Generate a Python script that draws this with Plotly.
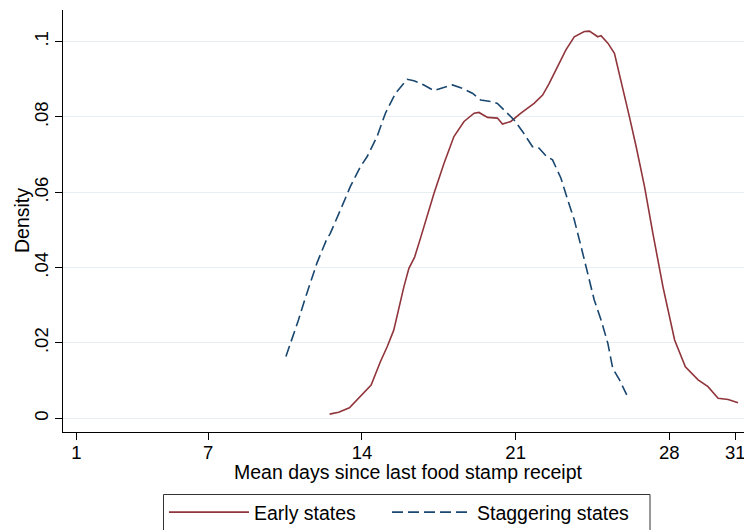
import plotly.graph_objects as go

# Early states (solid maroon)
early_days = [12.53, 12.94, 13.43, 13.93, 14.42, 14.84, 15.15, 15.45, 15.68, 15.91,
              16.14, 16.40, 16.64, 16.82, 17.28, 17.74, 18.19, 18.65, 19.11, 19.33,
              19.72, 20.17, 20.40, 20.78, 21.24, 21.84, 22.23, 22.53, 22.91, 23.29,
              23.67, 24.13, 24.36, 24.74, 24.89, 25.20, 25.50, 25.80, 26.18, 26.49,
              26.87, 27.25, 27.71, 28.24, 28.73, 29.31, 29.76, 30.22, 30.68, 31.13]
early_density = [0.0011, 0.0016, 0.0028, 0.0057, 0.0088, 0.0150, 0.0190, 0.0234, 0.0296, 0.0349,
                 0.0398, 0.0428, 0.0473, 0.0509, 0.0597, 0.0677, 0.0748, 0.0788, 0.0810, 0.0812,
                 0.0799, 0.0797, 0.0781, 0.0788, 0.0810, 0.0836, 0.0858, 0.0889, 0.0934, 0.0978,
                 0.1013, 0.1027, 0.1028, 0.1013, 0.1016, 0.0996, 0.0969, 0.0898, 0.0801, 0.0721,
                 0.0615, 0.0491, 0.0349, 0.0208, 0.0137, 0.0102, 0.0084, 0.0053, 0.0050, 0.0041]

# Staggering states (dashed navy)
stag_days = [10.54, 10.81, 11.11, 11.42, 11.65, 11.95, 12.38, 12.56, 13.02, 13.47,
             13.93, 14.24, 14.69, 15.07, 15.53, 16.06, 16.37, 16.82, 17.28, 17.66,
             18.12, 18.58, 19.03, 19.41, 19.87, 20.17, 20.63, 20.93, 21.32, 21.77,
             22.07, 22.38, 22.68, 23.06, 23.37, 23.67, 23.98, 24.28, 24.58, 24.89,
             25.20, 25.42, 25.73, 26.06]
stag_density = [0.0164, 0.0208, 0.0261, 0.0319, 0.0358, 0.0412, 0.0473, 0.0491, 0.0553, 0.0615,
                0.0668, 0.0695, 0.0748, 0.0810, 0.0863, 0.0900, 0.0896, 0.0885, 0.0870, 0.0876,
                0.0885, 0.0876, 0.0863, 0.0845, 0.0841, 0.0836, 0.0810, 0.0792, 0.0761, 0.0721,
                0.0717, 0.0697, 0.0686, 0.0638, 0.0580, 0.0527, 0.0456, 0.0385, 0.0314, 0.0261,
                0.0199, 0.0133, 0.0102, 0.0062]

x_ticks = [1, 7, 14, 21, 28, 31]
y_ticks = [0, 0.02, 0.04, 0.06, 0.08, 0.1]
y_tick_labels = ["0", ".02", ".04", ".06", ".08", ".1"]

x_title = "Mean days since last food stamp receipt"
y_title = "Density"

FONT = "Liberation Sans, Arial, Helvetica, sans-serif"

W, H = 744, 530
L, R, T, B = 63, 0, 10, 98
PW, PH = W - L - R, H - T - B


def px_x(px):
    return (px - L) / PW


def px_y(py):
    return (H - B - py) / PH


fig = go.Figure()
fig.add_trace(go.Scatter(x=early_days, y=early_density, mode="lines", name="Early states",
                         line=dict(color="#90353b", width=1.6), legend="legend"))
fig.add_trace(go.Scatter(x=stag_days, y=stag_density, mode="lines", name="Staggering states",
                         line=dict(color="#1a476f", width=1.6, dash="11px,5px"),
                         legend="legend2"))

leg_common = dict(orientation="h", yanchor="top", xanchor="left", borderwidth=0,
                  bgcolor="rgba(0,0,0,0)", font=dict(size=19.5), itemwidth=80)

fig.update_layout(
    width=W, height=H,
    margin=dict(l=L, r=R, t=T, b=B, autoexpand=False),
    paper_bgcolor="white", plot_bgcolor="white",
    font=dict(family=FONT, size=18.5, color="black"),
    showlegend=True,
    legend=dict(x=px_x(164), y=px_y(493), **leg_common),
    legend2=dict(x=px_x(387), y=px_y(493), **leg_common),
    xaxis=dict(range=[0.387, 31.40], tickmode="array", tickvals=x_ticks,
               ticks="outside", ticklen=7, tickcolor="black", showline=True,
               linecolor="black", linewidth=1, showgrid=False, zeroline=False,
               automargin=False, ticklabeloverflow="allow", ticklabelstandoff=-3,
               tickfont=dict(size=18.5)),
    yaxis=dict(range=[-0.00364, 0.1084], tickmode="array", tickvals=y_ticks,
               ticktext=y_tick_labels, tickangle=-90,
               ticks="outside", ticklen=7, tickcolor="black", showline=True,
               linecolor="black", linewidth=1, showgrid=True, gridcolor="#e8eef1",
               gridwidth=1, zeroline=False, automargin=False,
               tickfont=dict(size=18.5)),
    annotations=[
        dict(text=x_title, xref="paper", yref="paper", x=px_x(409), y=px_y(472),
             xanchor="center", yanchor="middle", showarrow=False, font=dict(size=19.5)),
        dict(text=y_title, xref="paper", yref="paper", x=px_x(22), y=px_y(221),
             xanchor="center", yanchor="middle", textangle=-90, showarrow=False,
             font=dict(size=19.5)),
    ],
    shapes=[
        dict(type="rect", xref="paper", yref="paper", x0=px_x(163.5), x1=px_x(650),
             y0=px_y(494.5), y1=px_y(545), line=dict(color="#333333", width=1),
             fillcolor="rgba(0,0,0,0)", layer="above"),
    ],
)

fig.write_html("out.html", config={"displayModeBar": False},
               post_script="document.body.style.margin='0px';")
